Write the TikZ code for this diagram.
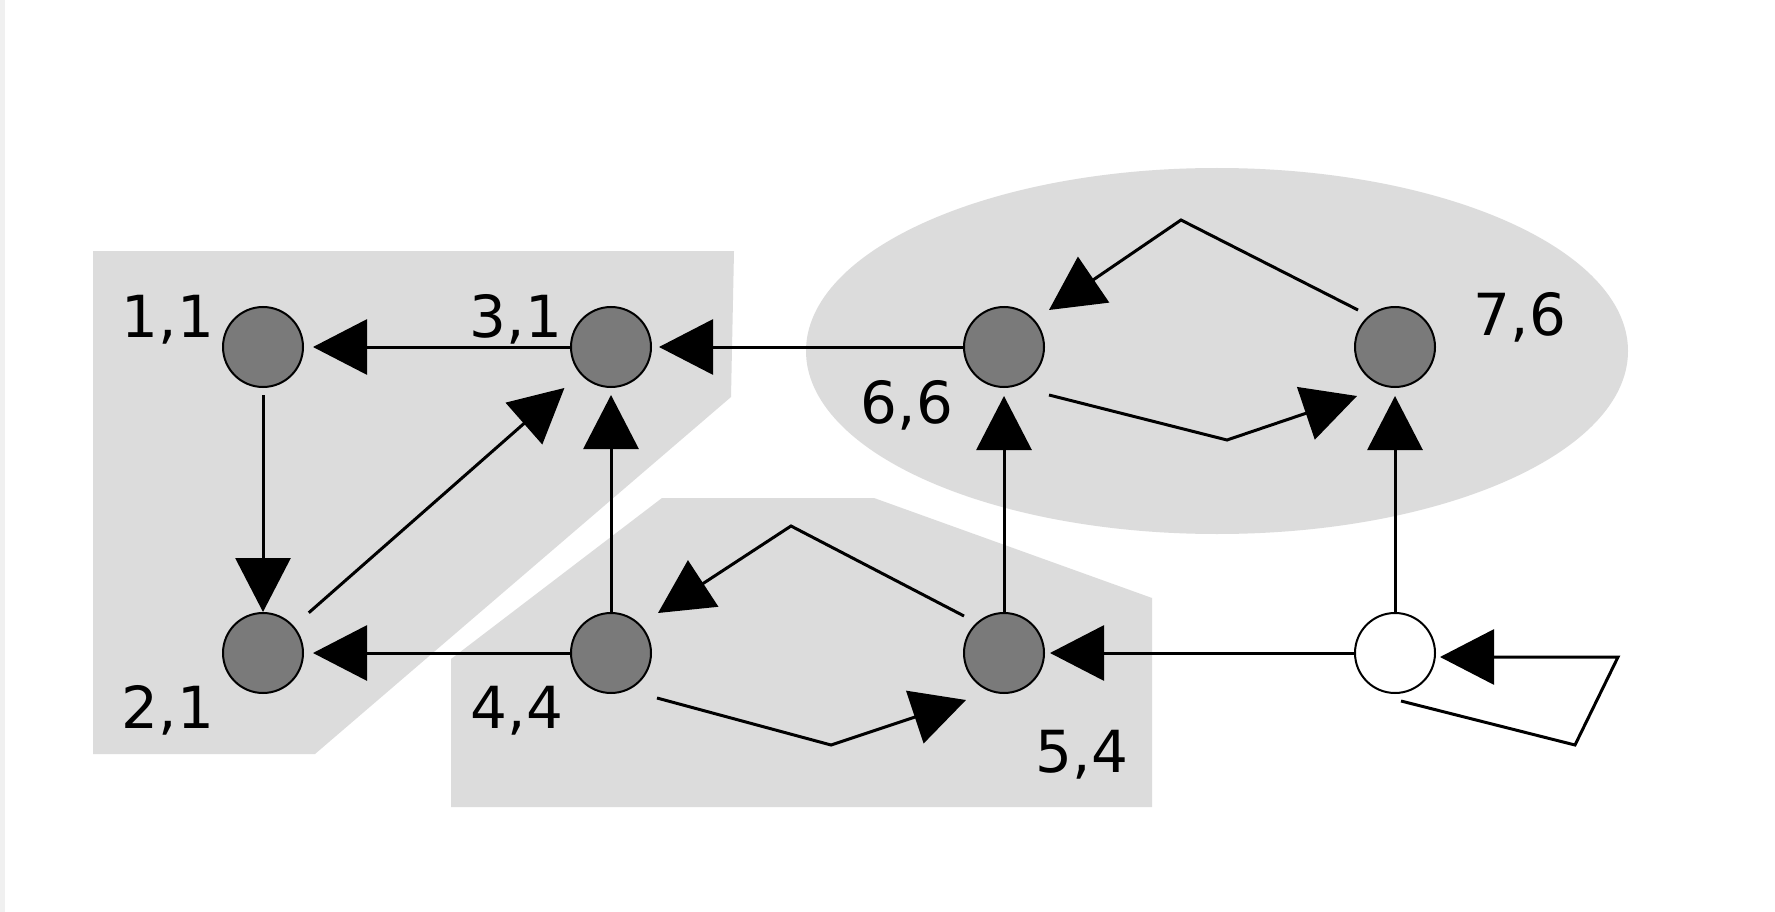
\documentclass[tikz,border=0pt]{standalone}
\usepackage{fontspec}
\setmainfont{DejaVu Sans}
\usetikzlibrary{arrows.meta,calc}
\definecolor{regiongray}{gray}{0.863}
\definecolor{nodegray}{RGB}{122,122,122}
\begin{document}
\begin{tikzpicture}[x=1pt,y=-1pt,
  vert/.style={circle,draw=black,line width=2pt,fill=nodegray,minimum size=80pt,inner sep=0pt},
  wvert/.style={vert,fill=white},
  lbl/.style={font=\fontsize{58}{70}\selectfont,inner sep=0pt,anchor=base},
  arr/.style={line width=3pt,-{Triangle[length=54pt,width=55pt]}},
  region/.style={fill=regiongray,draw=none}]
\useasboundingbox (0,0) rectangle (1775,912);
\fill[white] (0,0) rectangle (1775,912);
\fill[gray!12] (0,0) rectangle (5,912);
% regions
\fill[region] (93,251) -- (734,251) -- (731,397) -- (315,754) -- (93,754) -- cycle;
\fill[region] (451,807) -- (451,659) -- (662,498) -- (874,498) -- (1152,598) -- (1152,807) -- cycle;
\fill[region] (1217,351) ellipse [x radius=411, y radius=183];
% vertices
\node[vert] (n11) at (263,347) {};
\node[vert] (n31) at (611,347) {};
\node[vert] (n21) at (263,653) {};
\node[vert] (n44) at (611,653) {};
\node[vert] (n54) at (1004,653) {};
\node[vert] (n66) at (1004,347) {};
\node[vert] (n76) at (1395,347) {};
\node[wvert] (nw) at (1395,653) {};
% labels
\node[lbl] (l11) at (168,337) {1,1};
\node[lbl] (l31) at (516,337) {3,1};
\node[lbl] (l21) at (168,728) {2,1};
\node[lbl] (l44) at (517,728) {4,4};
\node[lbl] (l54) at (1082,772) {5,4};
\node[lbl] (l66) at (907,423) {6,6};
\node[lbl] (l76) at (1520,335) {7,6};
% bend points
\coordinate (b1) at (831,745);
\coordinate (b2) at (791,526);
\coordinate (b3) at (1181,220);
\coordinate (b4) at (1227,440);
\coordinate (b5) at (1575,745);
\coordinate (b6) at (1618,657);
% straight arrows
\draw[arr,shorten >=9pt] (n31) -- (n11);
\draw[arr,shorten >=7pt] (n66) -- (n31);
\draw[arr,shorten >=9pt] (n44) -- (n21);
\draw[arr,shorten >=5pt] (nw) -- (n54);
\draw[arr,shorten <=7pt] (n11) -- (n21);
\draw[arr,shorten >=7pt] (n44) -- (n31);
\draw[arr,shorten >=8pt] (n54) -- (n66);
\draw[arr,shorten >=8pt] (nw) -- (n76);
\draw[arr,shorten <=20pt,shorten >=21pt] (n21) -- (n31);
% bent arrows
\draw[arr] ($(n44)+(46,45)$) -- (b1) -- ($(n54)+(-38,47)$);
\draw[arr] ($(n54)+(-40,-37)$) -- (b2) -- ($(n44)+(47,-40)$);
\draw[arr] ($(n76)+(-37,-37)$) -- (b3) -- ($(n66)+(45,-37)$);
\draw[arr] ($(n66)+(45,48)$) -- (b4) -- ($(n76)+(-38,49)$);
% self loop
\draw[arr] ($(nw)+(6,48)$) -- (b5) -- (b6) -- ($(nw)+(45,4)$);
\end{tikzpicture}
\end{document}
